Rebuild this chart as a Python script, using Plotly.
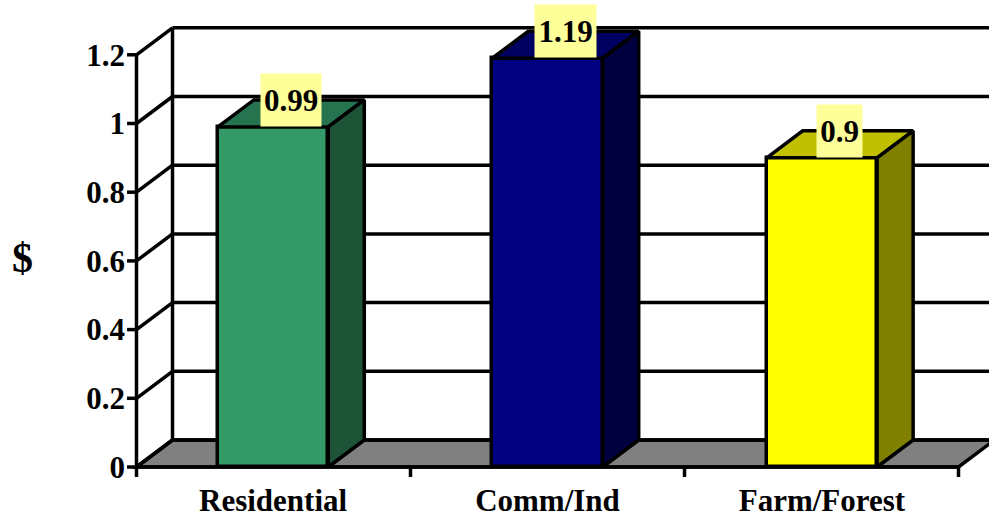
import plotly.graph_objects as go

categories = ["Residential", "Comm/Ind", "Farm/Forest"]
values = [0.99, 1.19, 0.9]
y_ticks = [0, 0.2, 0.4, 0.6, 0.8, 1, 1.2]
y_tick_labels = ["0", "0.2", "0.4", "0.6", "0.8", "1", "1.2"]
front_colors = ["#339966", "#000080", "#FFFF00"]
top_colors = ["#267350", "#000060", "#C0C000"]
side_colors = ["#1D5438", "#000040", "#808000"]
label_widths = [60, 61, 45]

DX, DY = 0.1314, 0.0786
BAR_W = 0.403
LW = 3.5
FONT = "Liberation Serif, Times New Roman, serif"
centers = [i * 1.0015 + 0.4985 for i in range(len(categories))]
n = len(categories)

fig = go.Figure()


def line(x0, y0, x1, y1):
    fig.add_shape(type="line", xref="x", yref="y", x0=x0, y0=y0, x1=x1, y1=y1,
                  layer="below", line=dict(color="black", width=LW))


# floor
floor = f"M 0 0 L {n} 0 L {n + DX} {DY} L {DX} {DY} Z"
fig.add_shape(type="path", xref="x", yref="y", path=floor, layer="below",
              fillcolor="#808080", line=dict(color="black", width=LW))
# wall grid, diagonals and ticks
for t in y_ticks:
    line(DX, t + DY, n + DX + 0.1, t + DY)
    line(0, t, DX, t + DY)
    line(-0.0345, t, 0, t)
line(DX, DY, DX, y_ticks[-1] + DY)
line(0, 0, 0, y_ticks[-1])
line(0, 0, n, 0)
for i in range(n + 1):
    line(i, 0, i, -0.029)

fig.add_trace(go.Bar(
    x=centers, y=values, width=BAR_W,
    marker=dict(color=front_colors, line=dict(color="black", width=LW)),
    hoverinfo="skip", showlegend=False, cliponaxis=False,
))

for c, v, tc, sc in zip(centers, values, top_colors, side_colors):
    x0, x1 = c - BAR_W / 2, c + BAR_W / 2
    fig.add_trace(go.Scatter(
        x=[x0, x0 + DX, x1 + DX, x1, x0], y=[v, v + DY, v + DY, v, v],
        mode="lines", fill="toself", fillcolor=tc,
        line=dict(color="black", width=LW, shape="linear"),
        hoverinfo="skip", showlegend=False,
    ))
    fig.add_trace(go.Scatter(
        x=[x1, x1 + DX, x1 + DX, x1, x1], y=[0, DY, v + DY, v, 0],
        mode="lines", fill="toself", fillcolor=sc,
        line=dict(color="black", width=LW, shape="linear"),
        hoverinfo="skip", showlegend=False,
    ))

for c, v, w in zip(centers, values, label_widths):
    fig.add_annotation(
        x=c + DX / 2, y=v + DY, xref="x", yref="y", text=f"<b>{v:g}</b>",
        showarrow=False, width=w, height=52, bgcolor="#FFFF99",
        align="center", valign="middle", borderpad=0,
        font=dict(family=FONT, size=31, color="black"),
    )

fig.add_annotation(
    x=0, xref="paper", xshift=-104, y=0.5, yref="paper", yshift=-19.5,
    text="<b>$</b>", showarrow=False, xanchor="center", yanchor="middle",
    font=dict(family=FONT, size=42, color="black"),
)

fig.update_layout(
    width=989, height=516, margin=dict(l=126, r=0, t=0, b=39),
    paper_bgcolor="white", plot_bgcolor="white", bargap=0,
    xaxis=dict(range=[-0.0383, 3.1113], tickvals=centers, ticktext=[f"<b>{c}</b>" for c in categories],
               showgrid=False, zeroline=False, showline=False, ticks="", automargin=False,
               tickfont=dict(family=FONT, size=31, color="black"), ticklabelstandoff=2),
    yaxis=dict(range=[-0.0291, 1.3595], tickvals=y_ticks, ticktext=[f"<b>{t}</b>" for t in y_tick_labels],
               showgrid=False, zeroline=False, showline=False, ticks="", automargin=False,
               tickfont=dict(family=FONT, size=31, color="black"), ticklabelstandoff=0),
)

fig.write_html("out.html", post_script="document.body.style.margin='0';",
               config=dict(displayModeBar=False))
